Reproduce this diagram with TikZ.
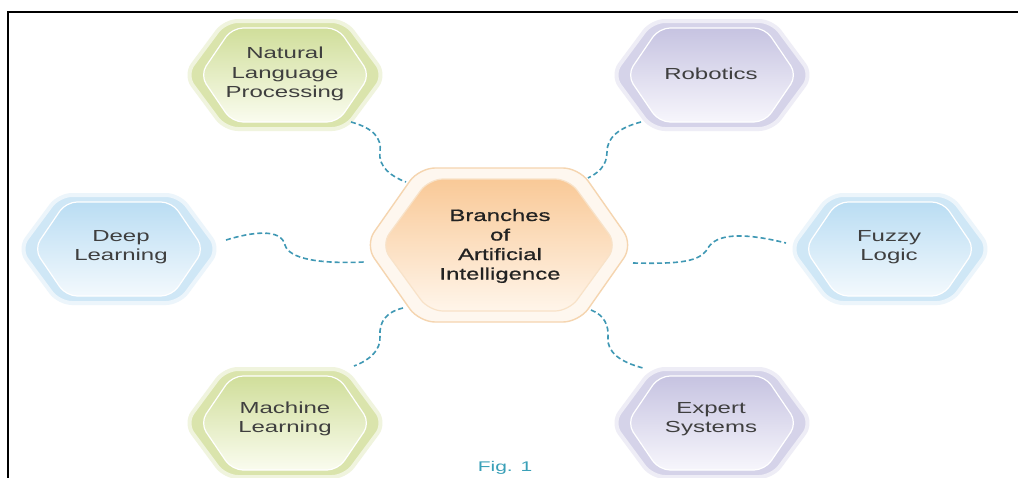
\documentclass[tikz,border=0pt]{standalone}
\usepackage{fontspec}
\setmainfont{Liberation Sans}[FakeStretch=1.5]
\newfontfamily\ctrfont{Liberation Sans}[FakeStretch=1.45,FakeBold=0.8]
\definecolor{txtgray}{HTML}{3F3F3F}
\definecolor{ctrtxt}{HTML}{222222}
\definecolor{linkblue}{HTML}{3F98B4}
\definecolor{grring}{HTML}{DAE4AC}
\definecolor{grtop}{HTML}{D0DE9A}
\definecolor{grbot}{HTML}{FAFCEF}
\definecolor{puring}{HTML}{D5D3E9}
\definecolor{putop}{HTML}{C6C3E1}
\definecolor{pubot}{HTML}{F7F6FC}
\definecolor{blring}{HTML}{CFE7F6}
\definecolor{bltop}{HTML}{BADDF3}
\definecolor{blbot}{HTML}{F3F9FD}
\definecolor{orring}{HTML}{F5D5B0}
\definecolor{orfill}{HTML}{FEF7EF}
\definecolor{ortop}{HTML}{F9C997}
\definecolor{orbot}{HTML}{FFF5EA}
\definecolor{figteal}{HTML}{3AA0B8}
% hexagon path: #1 cx, #2 cy, #3 half width, #4 half height, #5 half top edge, #6 style
\newcommand\hexpath[6]{%
  \path[#6] ({#1-#3},{#2}) -- ({#1-#5},{#2-#4}) -- ({#1+#5},{#2-#4})
    -- ({#1+#3},{#2}) -- ({#1+#5},{#2+#4}) -- ({#1-#5},{#2+#4}) -- cycle;}
% peripheral hexagon: #1 cx, #2 cy, #3 ring, #4 top, #5 bottom
\newcommand\sidehex[5]{%
  \hexpath{#1}{#2}{100}{54}{60}{rounded corners=13pt, fill=#3, draw=#3!40, line width=4pt}
  \hexpath{#1}{#2}{85}{47}{53}{rounded corners=11pt, top color=#4, bottom color=#5, draw=white, line width=1.2pt}}
\tikzset{
  lbl/.style={align=center, text=txtgray, inner sep=0pt,
    font=\fontsize{16}{19.5}\selectfont},
  clbl/.style={align=center, text=ctrtxt, inner sep=0pt,
    font=\ctrfont\fontsize{16.5}{19.5}\selectfont},
  link/.style={draw=linkblue, line width=1.6pt, dash pattern=on 5pt off 3pt},
  frameline/.style={draw=black, line width=1.8pt}
}
\begin{document}
\begin{tikzpicture}[x=1pt,y=-1pt]
\clip (0,0) rectangle (1018,477);
\useasboundingbox (0,0) rectangle (1018,477);
\fill[white] (0,0) rectangle (1018,477);
\draw[frameline] (8,490) -- (8,12) -- (1030,12);

% hexagons
\sidehex{285}{75}{grring}{grtop}{grbot}
\sidehex{712}{75}{puring}{putop}{pubot}
\sidehex{119}{249}{blring}{bltop}{blbot}
\sidehex{890}{249}{blring}{bltop}{blbot}
\sidehex{285}{423}{grring}{grtop}{grbot}
\sidehex{712}{423}{puring}{putop}{pubot}
\hexpath{499}{245}{134}{77}{80}{rounded corners=16pt, fill=orfill, draw=orring, line width=1.4pt}
\hexpath{499}{245}{118}{66}{70}{rounded corners=14pt, top color=ortop, bottom color=orbot, draw=orring!70, line width=1.2pt}

% labels
\node[lbl]  (nlp) at (285,74)  {Natural\\Language\\Processing};
\node[lbl]  (rob) at (711,74)  {Robotics};
\node[lbl]  (dl)  at (121,247) {Deep\\Learning};
\node[lbl]  (fl)  at (889,247) {Fuzzy\\Logic};
\node[clbl] (ai)  at (500,246) {Branches\\of\\Artificial\\Intelligence};
\node[lbl]  (ml)  at (285,419) {Machine\\Learning};
\node[lbl]  (es)  at (711,419) {Expert\\Systems};
\node[text=figteal, inner sep=0pt, anchor=south, font=\fontsize{14}{17}\selectfont] (fig) at (505,475) {Fig. 1};

% connector end points
\coordinate (nlp-s) at (351,122);
\coordinate (ai-nw) at (406,182);
\coordinate (rob-s) at (641,122);
\coordinate (ai-ne) at (588,178);
\coordinate (dl-e)  at (226,240);
\coordinate (ai-w)  at (364,262);
\coordinate (ai-e)  at (633,263);
\coordinate (fl-w)  at (786,243);
\coordinate (ai-sw) at (403,308);
\coordinate (ml-n)  at (354,366);
\coordinate (ai-se) at (591,310);
\coordinate (es-n)  at (643,368);

% connectors
\draw[link] (nlp-s) .. controls (373,128) and (382,138) .. (380,152)
                    .. controls (378,167) and (392,177) .. (ai-nw);
\draw[link] (rob-s) .. controls (618,128) and (607,138) .. (607,152)
                    .. controls (607,166) and (598,173) .. (ai-ne);
\draw[link] (dl-e)  .. controls (252,232) and (281,228) .. (285,245)
                    .. controls (289,259) and (320,264) .. (ai-w);
\draw[link] (ai-e)  .. controls (680,264) and (700,262) .. (708,248)
                    .. controls (716,234) and (742,232) .. (fl-w);
\draw[link] (ai-sw) .. controls (386,312) and (379,322) .. (380,336)
                    .. controls (381,350) and (370,360) .. (ml-n);
\draw[link] (ai-se) .. controls (604,315) and (609,325) .. (608,338)
                    .. controls (607,352) and (620,362) .. (es-n);
\end{tikzpicture}
\end{document}
